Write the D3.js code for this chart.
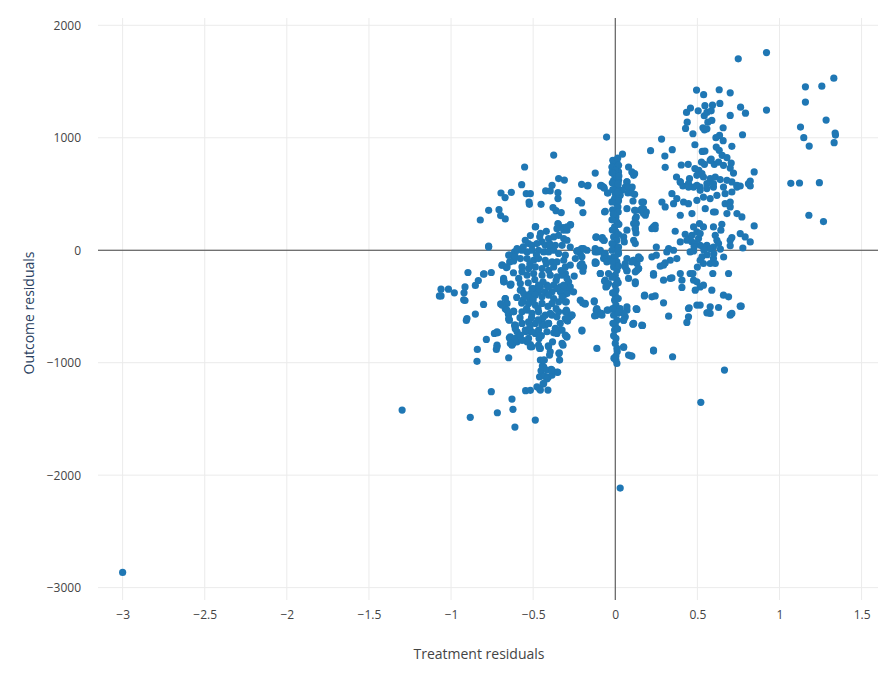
<!DOCTYPE html>
<html>
<head>
<meta charset="utf-8">
<script src="https://cdn.jsdelivr.net/npm/d3@7"></script>
<style>
  body { margin: 0; background: #fff; }
  svg text { font-family: "Open Sans", sans-serif; }
</style>
</head>
<body>
<svg id="chart" width="892" height="674"></svg>
<script>
// residual pairs [treatment residual, outcome residual]
var leftCluster = [
  [-0.375,846],[-0.552,740],[-0.345,637],[-0.31,624],[-0.570,583],[-0.385,577],[-0.424,527],[-0.396,527],
  [-0.696,509],[-0.633,515],[-0.671,468],[-0.542,503],[-0.517,503],[-0.525,429],[-0.523,408],[-0.452,408],
  [-0.349,512],[-0.349,459],[-0.379,379],[-0.361,352],[-0.329,335],[-0.205,586],[-0.169,571],[-0.225,441],
  [-0.205,420],[-0.197,335],[-0.771,355],[-0.708,361],[-0.698,308],[-0.670,278],[-0.822,269],[-0.485,210],
  [-0.771,29],[-0.771,36],[-0.349,237],[-0.318,202],[-0.272,228],[-0.294,178],[-0.347,231],[-0.274,225],
  [-0.897,-198],[-0.802,-213],[-0.755,-198],[-0.799,-210],[-1.061,-346],[-1.016,-346],[-0.915,-326],
  [-0.852,-313],[-0.834,-269],[-0.233,-6],[-0.205,15],[-0.197,-186],[-0.213,-142],
  [-1.071,-406],[-1.061,-406],[-0.980,-379],[-0.921,-379],[-0.923,-441],[-0.915,-447],[-0.802,-482],
  [-0.852,-568],[-0.903,-607],[-0.907,-624],[-0.698,-477],[-0.670,-429],[-0.670,-521],[-0.649,-568],
  [-0.647,-619],[-0.619,-542],[-0.736,-740],[-0.716,-734],[-0.785,-793],[-0.720,-859],[-0.724,-882],
  [-0.840,-882],[-0.842,-988],[-0.649,-956],[-0.609,-681],[-0.598,-725],[-0.639,-784],[-0.623,-829],
  [-0.598,-814],[-0.566,-799],[-0.537,-814],[-0.517,-838],[-0.507,-859],[-0.546,-725],[-0.517,-725],
  [-0.487,-740],[-0.464,-784],[-0.461,-873],[-0.456,-977],[-0.432,-977],[-0.444,-1030],[-0.452,-1072],
  [-0.461,-1125],[-0.432,-1119],[-0.408,-1130],[-0.385,-1110],[-0.390,-1059],[-0.353,-1083],
  [-0.440,-1190],[-0.477,-1214],[-0.461,-1234],[-0.410,-1243],[-0.546,-1249],[-0.517,-1246],
  [-0.408,-850],[-0.396,-903],[-0.400,-932],[-0.343,-918],[-0.339,-977],[-0.382,-814],[-0.318,-844],
  [-0.296,-770],[-0.324,-710],[-0.359,-734],[-0.304,-607],[-0.203,-719],[-0.199,-468],[-0.184,-480],
  [-0.755,-1258],[-0.629,-1323],[-0.623,-1415],[-0.883,-1486],[-0.718,-1445],[-0.611,-1572],[-0.487,-1510],
  [-0.688,-133],[-0.663,-154],[-0.643,-104],[-0.619,-95],[-0.643,-44],[-0.680,-266],[-0.676,-281],
  [-0.635,-302],[-0.613,-15],[-0.598,0],[-0.613,-666],[-0.609,-699],[-0.645,-779],[-0.619,-799],
  [-0.629,-844],[-0.645,-622],[-0.651,-568],[-0.213,-29],[-0.203,-118],[-0.193,-148],[-0.233,-9],[-0.172,0],
  [-0.213,-444],[-0.304,-207],[-0.284,-281],[-0.274,-326],[-0.290,-370],[-0.314,-400],[-0.298,-459],
  [-0.298,-533],[-0.274,-592],[-0.290,-630],[-0.294,-770],[-0.375,-734],[-0.335,-710],[-0.341,-912],
  [-0.456,-873],[-0.436,-977],[-0.436,-1036],[-0.416,-1066],[-0.385,-1066],[-0.351,-1086],[-0.416,-1145],
  [-0.436,-1184],[-0.456,-1243],[-0.264,-577],[-0.294,-622],[-0.304,-548],[-0.345,-548],[-0.385,-577],
  [-0.406,-651],[-0.426,-666],[-0.446,-637],[-0.183,-473],
  // upper blob
  [-0.487,207],[-0.355,192],[-0.314,178],[-0.294,207],[-0.406,104],[-0.375,118],[-0.345,133],[-0.314,104],
  [-0.294,89],[-0.548,89],[-0.528,59],[-0.507,44],[-0.477,59],[-0.446,74],[-0.426,44],[-0.396,29],
  [-0.365,44],[-0.324,44],[-0.274,29],[-0.598,15],[-0.568,0],[-0.537,-15],[-0.507,0],[-0.467,0],
  [-0.436,-15],[-0.406,-15],[-0.375,0],[-0.345,-29],[-0.304,-44],[-0.223,0],[-0.193,15],[-0.649,-44],
  [-0.609,-59],[-0.578,-74],[-0.537,-74],[-0.497,-89],[-0.467,-74],[-0.426,-89],[-0.385,-104],[-0.355,-104],
  [-0.314,-89],[-0.243,-74],[-0.203,-59],[-0.690,-133],[-0.659,-148],[-0.568,-148],[-0.528,-163],
  [-0.487,-148],[-0.446,-163],[-0.406,-178],[-0.375,-148],[-0.304,-148],[-0.274,-133],[-0.213,-133],
  [-0.568,-192],[-0.537,-222],[-0.497,-207],[-0.446,-222],[-0.396,-222],[-0.355,-237],[-0.324,-222],
  [-0.294,-251],[-0.588,-251],[-0.578,-296],[-0.680,-251],[-0.680,-281],[-0.639,-305],[-0.568,-355],
  [-0.497,-340],[-0.456,-326],[-0.416,-311],[-0.375,-311],[-0.335,-326],[-0.304,-340],[-0.467,-370],
  [-0.426,-370],[-0.385,-370],[-0.335,-370],[-0.294,-385],[-0.254,-370],[-0.517,-385],
  [-0.517,130],[-0.455,150],[-0.42,168],[-0.56,30],[-0.48,-40],[-0.52,-120],[-0.42,-120],[-0.33,-180],
  [-0.49,-260],[-0.53,-290],[-0.44,-280],[-0.36,-270],[-0.25,-230],[-0.62,-200],[-0.40,60],[-0.46,120],
  // lower blob
  [-0.639,-311],[-0.578,-355],[-0.507,-340],[-0.467,-311],[-0.406,-326],[-0.355,-340],[-0.314,-311],
  [-0.670,-429],[-0.659,-473],[-0.690,-488],[-0.558,-385],[-0.528,-414],[-0.487,-400],[-0.446,-414],
  [-0.406,-400],[-0.375,-429],[-0.324,-414],[-0.304,-459],[-0.528,-473],[-0.487,-488],[-0.446,-473],
  [-0.385,-473],[-0.345,-459],[-0.659,-533],[-0.649,-607],[-0.619,-548],[-0.568,-548],[-0.537,-533],
  [-0.507,-562],[-0.467,-548],[-0.426,-577],[-0.396,-562],[-0.355,-592],[-0.294,-548],[-0.264,-577],
  [-0.294,-607],[-0.609,-666],[-0.568,-651],[-0.528,-637],[-0.487,-651],[-0.446,-666],[-0.406,-651],
  [-0.548,-710],[-0.507,-725],[-0.467,-710],[-0.416,-725],[-0.365,-695],[-0.335,-651],[-0.639,-770],
  [-0.609,-784],[-0.578,-755],[-0.639,-829],[-0.568,-799],[-0.528,-784],[-0.517,-859],[-0.467,-844],
  [-0.406,-859],[-0.355,-740],[-0.304,-755],[-0.324,-829],[-0.720,-725],[-0.720,-844],[-0.203,-710],
  [-0.56,-440],[-0.47,-520],[-0.51,-600],[-0.44,-600],[-0.58,-600],[-0.50,-440],[-0.41,-500],[-0.36,-520],
  [-0.54,-520],[-0.47,-620],[-0.52,-680],[-0.45,-760],[-0.57,-470],[-0.60,-420]
];

var centerColumn = [
  [-0.122,686],[-0.089,571],[-0.067,551],[-0.047,509],[-0.061,346],[-0.118,115],[-0.079,113],[-0.067,89],
  [-0.116,-113],[-0.091,-207],[-0.065,-275],[-0.057,-326],[-0.112,-873],[-0.128,-450],[-0.116,-533],
  [-0.118,-580],[-0.091,-562],[-0.049,-533],[-0.116,0],[-0.108,-15],[-0.071,-29],[-0.122,-104],
  [-0.051,-320],[-0.081,-577],[-0.126,-583],[-0.128,-459],[-0.053,1006],[0.044,855],[-0.081,571],
  [-0.018,740],[0,755],[0.010,726],[0.020,696],[0.081,740],[0.101,696],[0.112,666],[-0.010,622],
  [0.010,651],[0.071,607],[0.061,562],
  [-0.010,775],[0.010,784],[-0.020,740],[0.020,755],[0,711],[-0.010,681],[0.010,651],[0.020,622],
  [0.004,577],[0.016,548],[0,503],[-0.004,459],[0.020,473],[0.010,414],[0.016,385],[0.004,296],
  [0.010,251],[-0.004,207],[0.004,163],[-0.010,118],[0.010,89],[-0.004,44],[0.020,29],[-0.020,0],
  [0.020,-29],[-0.010,-59],[-0.041,-74],[-0.166,577],[-0.087,577],[-0.071,562],[-0.045,509],
  [0.118,681],[0.071,607],[0.081,562],[0.077,509],[0.101,509],[0.118,497],[0.041,533],[0.030,488],
  [0.108,438],[0.162,429],[0.071,370],[0.122,355],[0.152,355],[0.172,370],[0.189,340],[0.183,311],
  [0.122,281],[0.128,237],[0.122,192],[0.126,154],[0.112,89],[0.122,59],[0.071,178],[0.051,118],
  [0.055,74],[0.223,192],[0.243,222],[-0.065,340],[-0.116,118],[-0.081,104],[-0.071,89],[-0.122,15],
  [-0.091,0],[-0.061,-29],[0.142,-59],[0.223,-59],[0.071,-74],
  [0,-59],[0.010,-104],[-0.010,-148],[0.010,-178],[0,-222],[0.010,-266],[0,-311],[0.004,-355],[0,-400],
  [-0.004,-444],[0.004,-488],[0,-533],[-0.010,-577],[0.010,-622],[0,-666],[-0.004,-710],[0.004,-784],
  [0,-829],[0.010,-873],[0.004,-941],[0.004,-977],[0.010,-1006],[-0.122,-15],[-0.101,0],[-0.071,-74],
  [-0.051,-104],[-0.041,-207],[-0.091,-207],[-0.061,-266],[-0.041,-296],[-0.122,-118],[-0.105,-548],
  [-0.085,-562],[-0.045,-533],[-0.112,-518],[0.051,-859],[0.081,-932],[0.101,-941],[0.233,-888],
  [0.061,-118],[0.071,-178],[0.081,-251],[0.122,-296],[0.112,-89],[0.132,-118],[0.142,-163],[0.122,-192],
  [0.152,-74],[0.071,-533],[0.051,-562],[0.051,-622],[0.061,-592],[0.112,-651],[0.132,-527],[0.162,-666],
  [0.179,-400],[0.223,-414],[0.233,-222],[0.030,-518],[0.051,-864],[0.095,-938],[0.233,-897],
  [0.349,-947],[0.108,-657],[0.166,-669],[0.128,-521],
  // the dense stack right on the zero line
  [-0.015,800],[0.015,820],[-0.02,690],[0.022,660],[-0.018,600],[0.018,590],[-0.015,540],[0.014,520],
  [-0.02,430],[0.02,440],[-0.016,360],[0.018,340],[-0.012,320],[-0.02,270],[0.022,230],[-0.018,180],
  [0.02,140],[-0.02,60],[0.018,-10],[-0.018,-100],[0.02,-140],[-0.02,-240],[0.018,-290],[-0.016,-380],
  [0.018,-430],[-0.016,-520],[0.016,-560],[-0.014,-650],[0.014,-700],[-0.01,-760],[0.012,-900],[-0.008,-960]
];

var rightCluster = [
  [0.215,885],[0.282,988],[0.347,894],[0.302,837],[0.304,737],[0.402,758],[0.444,764],[0.373,651],
  [0.396,607],[0.412,571],[0.749,1702],[0.495,1424],[0.538,1383],[0.633,1427],[0.700,1400],
  [0.458,1264],[0.434,1225],[0.505,1240],[0.546,1285],[0.592,1290],[0.637,1305],[0.763,1272],
  [0.793,1219],[0.700,1199],[0.542,1196],[0.558,1225],[0.584,1240],[0.564,1139],[0.588,1154],
  [0.438,1139],[0.428,1083],[0.534,1089],[0.543,1071],[0.558,1080],[0.657,1089],[0.635,1021],
  [0.613,1001],[0.473,1036],[0.775,1027],[0.657,974],[0.485,938],[0.530,879],[0.546,882],[0.615,917],
  [0.633,888],[0.651,844],[0.680,823],[0.710,924],[0.584,811],[0.603,764],[0.525,784],[0.543,764],
  [0.578,799],[0.629,784],[0.659,755],[0.706,775],[0.700,731],[0.720,686],[0.846,696],[0.485,726],
  [0.509,711],[0.528,681],[0.497,666],[0.537,651],[0.578,636],[0.609,651],[0.639,628],[0.680,622],
  [0.710,607],[0.452,636],[0.446,592],[0.477,562],[0.517,562],[0.558,592],[0.598,562],[0.741,562],
  [0.761,571],[0.822,615],[0.822,571],[0.103,562],
  [0.846,216],[0.777,20],[0.822,74],[0.791,118],[0.761,148],[0.700,89],[0.710,113],[0.643,178],
  [0.649,231],[0.598,207],[0.609,133],[0.619,89],[0.629,59],[0.598,29],[0.558,44],[0.578,15],
  [0.537,29],[0.517,44],[0.513,237],[0.537,207],[0.477,207],[0.467,133],[0.452,104],[0.426,142],
  [0.436,89],[0.467,74],[0.487,59],[0.507,104],[0.497,163],[0.517,148],[0.456,-15],[0.477,-6],
  [0.396,607],[0.446,562],[0.497,577],[0.517,533],[0.558,548],[0.598,592],[0.659,562],[0.669,503],
  [0.710,518],[0.741,577],[0.811,592],[0.345,503],[0.375,459],[0.416,429],[0.446,414],[0.497,444],
  [0.537,473],[0.578,459],[0.619,488],[0.284,429],[0.304,385],[0.355,414],[0.669,414],[0.700,429],
  [0.700,385],[0.741,326],[0.680,326],[0.771,296],[0.598,340],[0.609,340],[0.548,370],[0.396,311],
  [0.467,326],[0.365,169],[0.396,74],[0.355,0],[0.325,15],[0.314,-15],[0.250,29],[0.250,-44],
  [0.233,207],[0.243,192],[0.172,326],[0.162,370],[0.172,429],[0.118,355],[0.128,296],[0.112,237],
  [0.122,192],
  [0.375,-74],[0.335,-89],[0.304,-113],[0.274,-142],[0.294,-133],[0.233,-207],[0.294,-266],[0.335,-251],
  [0.345,-246],[0.396,-207],[0.406,-266],[0.406,-331],[0.456,-207],[0.473,-207],[0.477,-266],
  [0.497,-281],[0.517,-89],[0.528,-59],[0.537,-118],[0.578,-118],[0.598,-74],[0.609,-118],[0.594,-207],
  [0.517,-326],[0.537,-311],[0.487,-355],[0.588,-355],[0.690,-207],[0.659,-400],[0.690,-414],
  [0.517,-488],[0.497,-488],[0.446,-518],[0.578,-503],[0.629,-509],[0.761,-497],[0.710,-562],
  [0.700,-577],[0.578,-562],[0.558,-556],[0.446,-592],[0.436,-642],[0.325,-586],[0.294,-468],
  [0.243,-406],[0.177,-406],[0.164,-669],[0.108,-657],[0.128,-521],[0.071,-503],[0.051,-562],
  [0.051,-622],[0.020,-548],[0.142,-163],[0.132,-178],[0.112,-89],[0.101,-104],[0.148,-74],[0.122,-281],
  [0.071,-184],[0.061,-148],[0.450,-512],[0.767,-497],[0.562,-556],[0.702,-571],
  [0.54,0],[0.60,-30],[0.50,-150],[0.56,-40],[0.64,10],[0.70,40],[0.48,30],[0.66,-60]
];

var farRight = [
  [0.921,1758],[0.921,1246],[1.331,1530],[1.158,1453],[1.258,1459],[1.158,1317],[1.284,1157],
  [1.128,1095],[1.148,1001],[1.339,1042],[1.341,1024],[1.181,926],[1.333,956],[1.069,595],
  [1.122,598],[1.243,601],[1.179,311],[1.268,255]
];

var outliers = [
  [-3.0,-2865],[-1.298,-1421],[0.030,-2115],[0.521,-1352],[0.665,-1066]
];

var xTicks = [-3, -2.5, -2, -1.5, -1, -0.5, 0, 0.5, 1, 1.5];
var yTicks = [2000, 1000, 0, -1000, -2000, -3000];

var allPoints = leftCluster.concat(centerColumn, rightCluster, farRight, outliers);

var svg = d3.select("#chart");
var plotL = 98, plotR = 878, plotT = 18, plotB = 600;

var x = d3.scaleLinear().domain([-3.15, 1.6]).range([plotL, plotR]);
var y = d3.scaleLinear().domain([-3110, 2065]).range([plotB, plotT]);

function fmt(v) { return String(v).replace("-", "\u2212"); }

// grid
svg.append("g").selectAll("line").data(xTicks).enter().append("line")
  .attr("x1", d => x(d)).attr("x2", d => x(d))
  .attr("y1", plotT).attr("y2", plotB)
  .attr("stroke", "#ebebeb").attr("stroke-width", 1);
svg.append("g").selectAll("line").data(yTicks).enter().append("line")
  .attr("y1", d => y(d)).attr("y2", d => y(d))
  .attr("x1", plotL).attr("x2", plotR)
  .attr("stroke", "#ebebeb").attr("stroke-width", 1);

// zero lines
svg.append("line").attr("x1", x(0)).attr("x2", x(0)).attr("y1", plotT).attr("y2", plotB)
  .attr("stroke", "#444").attr("stroke-width", 1);
svg.append("line").attr("x1", plotL).attr("x2", plotR).attr("y1", y(0)).attr("y2", y(0))
  .attr("stroke", "#444").attr("stroke-width", 1);

// tick labels
var xAxis = d3.axisBottom(x).tickValues(xTicks).tickSize(0).tickPadding(10).tickFormat(fmt);
var gx = svg.append("g").attr("transform", "translate(0," + plotB + ")").call(xAxis);
gx.select(".domain").remove();
gx.selectAll("text").attr("fill", "#444").style("font-size", "12px").style("font-family", "'Open Sans', sans-serif");

var yAxis = d3.axisLeft(y).tickValues(yTicks).tickSize(0).tickPadding(17).tickFormat(fmt);
var gy = svg.append("g").attr("transform", "translate(" + plotL + ",0)").call(yAxis);
gy.select(".domain").remove();
gy.selectAll("text").attr("fill", "#444").style("font-size", "12px").style("font-family", "'Open Sans', sans-serif");

// points
svg.append("g").selectAll("circle").data(allPoints).enter().append("circle")
  .attr("cx", d => x(d[0]))
  .attr("cy", d => y(d[1]))
  .attr("r", 3.6)
  .attr("fill", "#1f77b4");

// axis titles
svg.append("text").attr("x", 479).attr("y", 659).attr("text-anchor", "middle")
  .attr("fill", "#444").style("font-size", "14px").text("Treatment residuals");
svg.append("text").attr("transform", "translate(34,313) rotate(-90)").attr("text-anchor", "middle")
  .attr("fill", "#2a3f5f").style("font-size", "14px").text("Outcome residuals");
</script>
</body>
</html>
